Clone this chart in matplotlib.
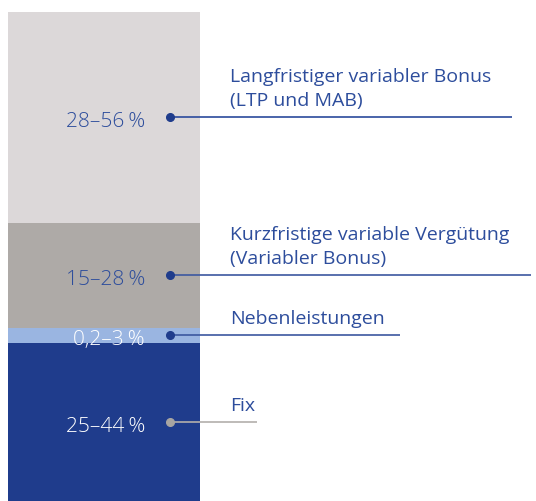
import matplotlib.pyplot as plt
import matplotlib.transforms as mtransforms

plt.rcParams['font.family'] = ['Open Sans', 'DejaVu Sans']

# Segment shares (bottom to top)
categories = ['Fix', 'Nebenleistungen',
              'Kurzfristige variable Vergütung\n(Variabler Bonus)',
              'Langfristiger variabler Bonus\n(LTP und MAB)']
values = [32.3, 3.1, 21.5, 43.1]
ranges = ['25–44\u2009%', '0,2–3\u2009%', '15–28\u2009%', '28–56\u2009%']

bar_colors = ['#1f3c8c', '#9ab5e1', '#aeaaa7', '#dcd8d9']
value_colors = ['white', 'white', '#2d4d9c', '#2d4d9c']
dot_colors = ['#a8a5a2', '#1f3c8c', '#1f3c8c', '#1f3c8c']
line_colors = ['#b3afab', '#3c58a0', '#3c58a0', '#2b4a9c']
line_ends = [257, 400, 531, 512]
text_color = '#2d4d9c'

fig = plt.figure(figsize=(5.36, 5.02), dpi=100)
ax = fig.add_axes([0, 0, 1, 1])
total = sum(values)
ax.set_xlim(0, 536)
ax.set_ylim(0, total * 502 / 489)
ax.axis('off')

up = lambda d: mtransforms.offset_copy(ax.transData, fig=fig, x=0, y=d, units='dots')

bottom = 0
for cat, val, rng, bc, vc, dc, lc, le in zip(categories, values, ranges, bar_colors,
                                            value_colors, dot_colors, line_colors, line_ends):
    ax.bar(104, val, width=192, bottom=bottom, color=bc, linewidth=0)
    mid = bottom + val / 2
    ax.plot([170, le], [mid, mid], color=lc, lw=1.2, solid_capstyle='butt')
    ax.plot([170], [mid], 'o', color=dc, markersize=5.5)
    ax.text(145, mid, rng, color=vc, fontsize=15, fontweight='light', ha='right',
            va='baseline', transform=up(-8.5))
    ax.text(230, mid, cat, color=text_color, fontsize=14, ha='left',
            va='baseline', linespacing=1.4, transform=up(12.5))
    bottom += val

fig.savefig('out.png', dpi=100)
